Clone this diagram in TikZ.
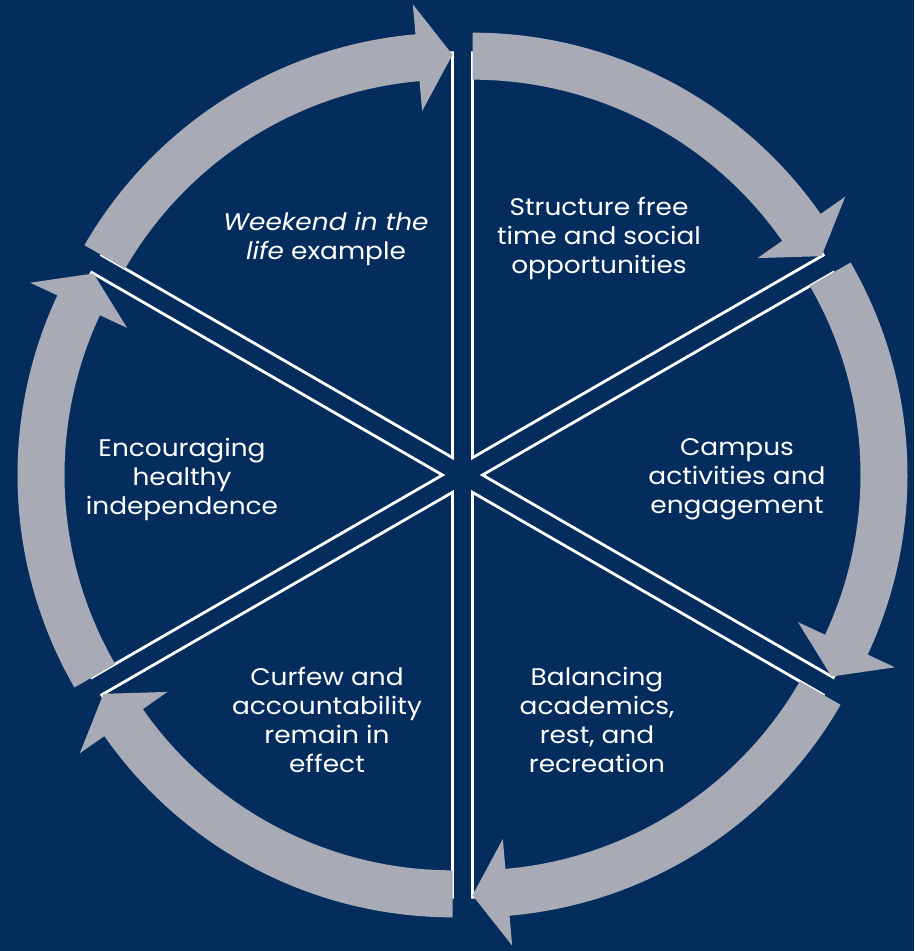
\documentclass[tikz,border=0pt]{standalone}
\usepackage{fontspec}
\setmainfont{Poppins}[FakeStretch=1.1]
\usetikzlibrary{calc}
\definecolor{navybg}{RGB}{4,45,94}
\definecolor{arrowgrey}{RGB}{168,170,181}
\tikzset{
  wedgeline/.style={draw=white, line width=1.4pt, line join=miter},
  cyclearrow/.style={fill=arrowgrey},
  label/.style={text=white, align=center, font=\fontsize{12}{14.5}\selectfont}
}

\begin{document}
\begin{tikzpicture}[x=0.5pt, y=0.5pt]
\fill[navybg] (-462.5,-476) rectangle (451.5,475);
\useasboundingbox (-462.5,-476) rectangle (451.5,475);

\foreach \m in {60,0,-60,-120,180,120}{
  \pgfmathsetmacro{\a}{\m+30}
  \pgfmathsetmacro{\b}{\m-30}
  \draw[wedgeline] (\m:20) -- ++(\a:405) arc[start angle=\a, end angle=\b, radius=405] -- cycle;
}

\foreach \m in {60,0,-60,-120,180,120}{
  \pgfmathsetmacro{\a}{\m+30}
  \pgfmathsetmacro{\b}{\m-30}
  \pgfmathsetmacro{\h}{\m-25}
  \begin{scope}[shift={(\m:20)}]
    \fill[cyclearrow] (\a:425) arc[start angle=\a, end angle=\h, radius=425]
      -- (\h:455) -- (\b:403) -- (\h:348) -- (\h:378)
      arc[start angle=\h, end angle=\a, radius=378] -- cycle;
  \end{scope}
}

\node(weekend) [label] at (-136.5,236.5) {\textit{Weekend in the}\\\textit{life} example};
\node(structure) [label] at (136.5,237) {Structure free\\time and social\\opportunities};
\node(campus) [label] at (274.5,-4) {Campus\\activities and\\engagement};
\node(balancing) [label] at (134.5,-244.5) {Balancing\\academics,\\rest, and\\recreation};
\node(curfew) [label] at (-135.5,-244.5) {Curfew and\\accountability\\remain in\\effect};
\node(encouraging) [label] at (-280.5,-4) {Encouraging\\healthy\\independence};
\end{tikzpicture}
\end{document}
